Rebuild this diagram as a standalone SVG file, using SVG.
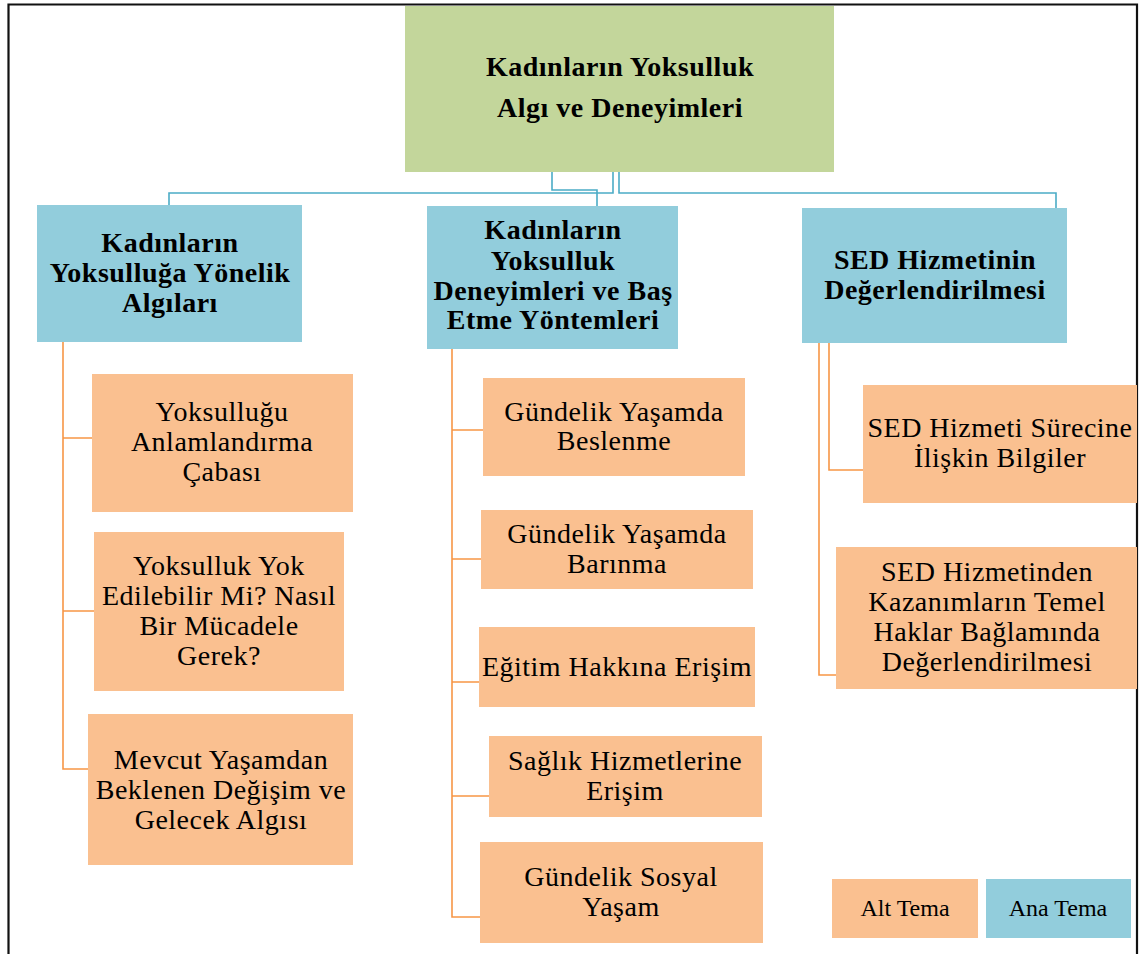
<svg xmlns="http://www.w3.org/2000/svg" width="1143" height="954" viewBox="0 0 1143 954">
<style>
.t{font-family:"Liberation Serif","Times New Roman",serif;fill:#000;text-anchor:middle}
.b{font-weight:bold;font-size:28px;letter-spacing:0.5px}
.r{font-size:28px;letter-spacing:0.5px}
.l{font-size:24px}
.green{fill:#C3D69B}
.blue{fill:#92CDDC}
.orange{fill:#FAC090}
.cb{fill:none;stroke:#4BACC6;stroke-width:1.6}
.co{fill:none;stroke:#F79646;stroke-width:1.6}
</style>
<rect x="0" y="0" width="1143" height="954" fill="#fff"/>
<path d="M8.5,960 V4.5 H1137 V960" fill="none" stroke="#111" stroke-width="2.2"/>
<g id="connectors">
<path class="cb" d="M613,172 V193 H169 V205"/>
<path class="cb" d="M552,172 V190 H597 V206"/>
<path class="cb" d="M619,172 V193 H1056 V208"/>
<path class="co" d="M63,342 V769 H88 M63,438 H92 M63,611 H94"/>
<path class="co" d="M452,349 V917 H480 M452,430 H483 M452,559 H481 M452,682 H479 M452,796 H489"/>
<path class="co" d="M829,343 V470 H863"/>
<path class="co" d="M819,343 V675 H836"/>
</g>
<g id="root">
<rect class="green" x="405" y="6" width="429" height="166"/>
<text class="t b" x="620" y="76">Kadınların Yoksulluk</text>
<text class="t b" x="620" y="117">Algı ve Deneyimleri</text>
</g>
<g id="main1">
<rect class="blue" x="37" y="205" width="265" height="137"/>
<text class="t b" x="170" y="252">Kadınların</text>
<text class="t b" x="170" y="282">Yoksulluğa Yönelik</text>
<text class="t b" x="170" y="312">Algıları</text>
</g>
<g id="main2">
<rect class="blue" x="427" y="206" width="251" height="143"/>
<text class="t b" x="553" y="239">Kadınların</text>
<text class="t b" x="553" y="270">Yoksulluk</text>
<text class="t b" x="553" y="300">Deneyimleri ve Baş</text>
<text class="t b" x="553" y="329">Etme Yöntemleri</text>
</g>
<g id="main3">
<rect class="blue" x="802" y="208" width="265" height="135"/>
<text class="t b" x="935" y="269">SED Hizmetinin</text>
<text class="t b" x="935" y="299">Değerlendirilmesi</text>
</g>
<g id="sub1a">
<rect class="orange" x="92" y="374" width="261" height="138"/>
<text class="t r" x="222" y="421">Yoksulluğu</text>
<text class="t r" x="222" y="451">Anlamlandırma</text>
<text class="t r" x="222" y="481">Çabası</text>
</g>
<g id="sub1b">
<rect class="orange" x="94" y="532" width="250" height="159"/>
<text class="t r" x="219" y="575">Yoksulluk Yok</text>
<text class="t r" x="219" y="605">Edilebilir Mi? Nasıl</text>
<text class="t r" x="219" y="635">Bir Mücadele</text>
<text class="t r" x="219" y="665">Gerek?</text>
</g>
<g id="sub1c">
<rect class="orange" x="88" y="714" width="265" height="151"/>
<text class="t r" x="221" y="769">Mevcut Yaşamdan</text>
<text class="t r" x="221" y="799">Beklenen Değişim ve</text>
<text class="t r" x="221" y="829">Gelecek Algısı</text>
</g>
<g id="sub2a">
<rect class="orange" x="483" y="378" width="262" height="98"/>
<text class="t r" x="614" y="421">Gündelik Yaşamda</text>
<text class="t r" x="614" y="450">Beslenme</text>
</g>
<g id="sub2b">
<rect class="orange" x="481" y="510" width="272" height="79"/>
<text class="t r" x="617" y="543">Gündelik Yaşamda</text>
<text class="t r" x="617" y="573">Barınma</text>
</g>
<g id="sub2c">
<rect class="orange" x="479" y="627" width="276" height="80"/>
<text class="t r" x="617" y="676">Eğitim Hakkına Erişim</text>
</g>
<g id="sub2d">
<rect class="orange" x="489" y="736" width="273" height="81"/>
<text class="t r" x="625" y="770">Sağlık Hizmetlerine</text>
<text class="t r" x="625" y="800">Erişim</text>
</g>
<g id="sub2e">
<rect class="orange" x="480" y="842" width="283" height="101"/>
<text class="t r" x="621" y="886">Gündelik Sosyal</text>
<text class="t r" x="621" y="916">Yaşam</text>
</g>
<g id="sub3a">
<rect class="orange" x="863" y="385" width="274" height="118"/>
<text class="t r" x="1000" y="437">SED Hizmeti Sürecine</text>
<text class="t r" x="1000" y="467">İlişkin Bilgiler</text>
</g>
<g id="sub3b">
<rect class="orange" x="836" y="547" width="301" height="142"/>
<text class="t r" x="987" y="581">SED Hizmetinden</text>
<text class="t r" x="987" y="611">Kazanımların Temel</text>
<text class="t r" x="987" y="641">Haklar Bağlamında</text>
<text class="t r" x="987" y="671">Değerlendirilmesi</text>
</g>
<g id="legend">
<rect class="orange" x="832" y="879" width="146" height="59"/>
<text class="t l" x="905" y="916">Alt Tema</text>
<rect class="blue" x="986" y="879" width="145" height="59"/>
<text class="t l" x="1058" y="916">Ana Tema</text>
</g>
</svg>
